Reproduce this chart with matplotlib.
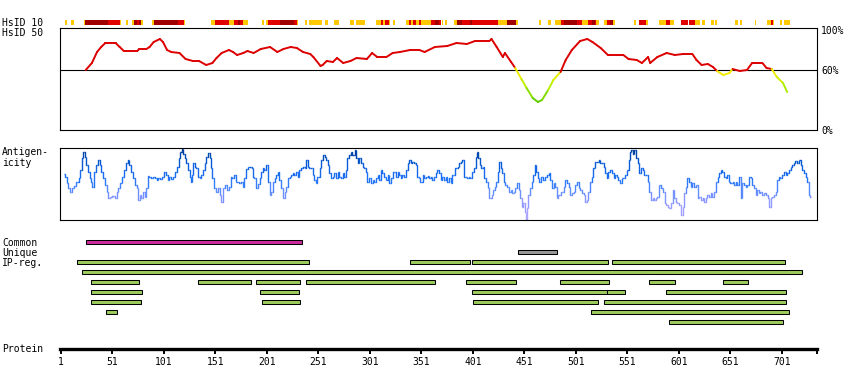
import numpy as np
import matplotlib
matplotlib.use('Agg')
import matplotlib.pyplot as plt
from matplotlib.collections import LineCollection
from matplotlib.colors import LinearSegmentedColormap

plt.rcParams['font.family'] = ['DejaVu Sans Mono']
plt.rcParams['font.size'] = 7

# ---------------- data ----------------
protein_ticks = [1, 51, 101, 151, 201, 251, 301, 351, 401, 451, 501, 551, 601, 651, 701]
protein_end = 735.0

# HsID 10 strip: start, end, level (1 = yellow, 2 = red, 3 = dark red)
hsid10_start = [5, 11, 23, 24, 47, 58, 64, 70, 72, 75, 77, 79, 89, 91, 115, 120, 147, 151, 164, 169, 173, 175, 178,
                196, 200, 202, 214, 227, 230, 238, 242, 257, 266, 282, 287, 307, 312, 314, 316, 319, 323, 336, 339,
                341, 343, 346, 349, 351, 354, 360, 364, 368, 371, 374, 383, 385, 390, 398, 400, 425, 434, 443, 465,
                474, 481, 486, 489, 502, 507, 513, 517, 519, 520, 528, 531, 534, 537, 557, 562, 569, 582, 588, 592,
                603, 611, 617, 623, 632, 636, 655, 660, 675, 686, 690, 692, 699, 703]
hsid10_end = [7, 14, 24, 47, 58, 59, 66, 72, 75, 77, 79, 81, 91, 115, 120, 121, 151, 164, 169, 173, 175, 178, 183,
              198, 202, 214, 227, 230, 231, 240, 254, 260, 271, 285, 296, 312, 314, 316, 319, 320, 325, 339, 341,
              343, 346, 349, 351, 354, 360, 364, 368, 370, 372, 376, 385, 390, 398, 400, 425, 434, 443, 445, 467,
              477, 486, 489, 502, 507, 513, 517, 519, 520, 523, 531, 534, 537, 539, 559, 569, 571, 588, 592, 596,
              610, 617, 621, 626, 635, 638, 658, 662, 676, 690, 692, 693, 701, 709]
hsid10_level = [1, 1, 1, 3, 2, 1, 1, 1, 3, 2, 3, 1, 1, 3, 2, 1, 1, 2, 1, 2, 3, 2, 1,
                1, 1, 2, 3, 2, 1, 1, 1, 1, 1, 1, 1, 1, 2, 1, 2, 1, 1, 1, 2,
                1, 2, 1, 2, 1, 1, 2, 3, 2, 1, 1, 1, 3, 2, 3, 2, 1, 3, 1, 1,
                1, 1, 2, 3, 2, 1, 2, 3, 2, 1, 1, 2, 3, 1, 1, 2, 1, 1, 2, 1,
                2, 2, 1, 1, 1, 1, 1, 1, 1, 1, 2, 1, 1, 1]

# HsID 50 identity curve (percent)
hsid50_pos = [25, 31, 36, 40, 44, 54, 58, 62, 75, 77, 84, 87, 91, 97, 100, 104, 108, 116, 122, 129,
              135, 142, 148, 152, 157, 164, 168, 172, 178, 182, 188, 195, 204, 211, 217, 224, 230, 236, 243, 246,
              253, 255, 259, 265, 269, 275, 282, 288, 298, 303, 308, 317, 323, 330, 340, 349, 354, 364, 376, 385,
              395, 403, 417, 419, 424, 430, 432, 438, 442, 448, 453, 459, 464, 468, 474, 479, 486, 491, 497, 505,
              512, 517, 525, 532, 547, 552, 560, 565, 571, 573, 580, 589, 597, 605, 614, 618, 623, 629, 634, 638,
              644, 650, 653, 660, 667, 672, 678, 682, 686, 691, 696, 702, 706]
hsid50_val = [60, 67, 78, 83, 87, 87, 83, 79, 79, 81, 81, 83, 88, 91, 88, 80, 78, 77, 71, 69,
              69, 65, 67, 72, 77, 80, 78, 75, 77, 79, 77, 81, 83, 78, 81, 83, 82, 78, 76, 73,
              64, 65, 69, 68, 72, 67, 69, 72, 71, 77, 73, 73, 77, 78, 80, 80, 78, 83, 84, 87,
              86, 89, 89, 91, 83, 73, 77, 68, 62, 51, 42, 32, 28, 30, 40, 50, 58, 70, 80, 89,
              91, 88, 82, 75, 75, 71, 70, 67, 73, 67, 73, 77, 75, 76, 76, 70, 65, 66, 63, 59,
              55, 57, 61, 59, 60, 67, 67, 67, 62, 61, 53, 47, 38]

# Antigenicity profile
antigen_pos = [4, 6, 7, 9, 11, 13, 15, 17, 19, 20, 22, 23, 25, 26, 28, 30, 31, 32, 34, 36, 38, 39, 41, 43, 45, 46,
               48, 49, 52, 54, 56, 57, 60, 61, 63, 65, 67, 68, 70, 72, 74, 75, 77, 78, 80, 82, 83, 85, 86, 87, 89,
               91, 93, 95, 96, 98, 100, 102, 104, 105, 107, 109, 111, 113, 115, 116, 117, 119, 120, 122, 123, 125,
               127, 128, 129, 130, 132, 133, 135, 136, 138, 140, 141, 143, 145, 146, 147, 149, 151, 152, 154, 156,
               157, 159, 161, 163, 165, 167, 168, 170, 171, 173, 175, 177, 178, 180, 182, 183,
               185, 187, 188, 189, 191, 193, 195, 196, 198, 199, 201, 203, 204, 206, 208, 209, 211, 212, 214, 216,
               217, 219, 220, 222, 224, 225, 227, 228, 230, 232, 233, 235, 237, 238, 240, 241, 243, 245, 246, 248,
               249, 251, 253, 254, 256, 258, 259, 261, 262, 264, 266, 267, 269, 270, 272, 274, 275, 277, 278, 280,
               282, 283, 285, 287, 288, 290, 291, 293, 295, 296, 298, 299, 301, 303, 304, 306, 308, 309, 311, 312,
               314, 316, 317, 319, 320, 322, 324, 325, 327, 329, 330, 332, 333, 335, 337, 338, 340, 341, 343, 345,
               346, 348, 349, 351, 353, 354, 356, 358, 359, 361, 362, 364, 366, 367,
               369, 370, 372, 374, 375, 377, 379, 380, 382, 383, 385, 387, 388, 390, 391, 393, 395, 396, 398, 399,
               401, 403, 404, 405, 407, 408, 410, 411, 413, 415, 416, 418, 420, 421, 423, 424, 426, 427, 429, 430,
               432, 433, 435, 437, 438, 440, 441, 443, 445, 446, 448, 449, 451, 452, 453, 454, 455, 457, 459, 460,
               462, 463, 465, 466, 468, 470, 472, 474, 475, 477, 479, 480, 482, 483, 485, 487, 488, 490, 491, 493,
               495, 496, 498, 500, 501, 503, 504, 506, 508, 509, 511, 512, 514, 516, 517, 519, 520, 522, 524, 525,
               527, 529, 530, 532, 533, 535, 537, 538, 540, 541, 543, 545, 546, 548, 550, 551, 553,
               554, 555, 557, 558, 560, 562, 563, 565, 567, 568, 570, 571, 573, 575, 576, 578, 579, 581, 582, 583,
               585, 586, 588, 589, 591, 592, 594, 596, 597, 599, 600, 602, 604, 605, 607, 608, 610, 612, 613, 615,
               617, 618, 620, 621, 623, 625, 626, 628, 629, 631, 633, 634, 636, 638, 639, 641, 642, 644, 646, 647,
               649, 650, 652, 654, 655, 657, 658, 660, 662, 663, 665, 667, 668, 670, 671, 673, 675, 676, 678, 679,
               681, 683, 684, 686, 688, 689, 691, 692, 694, 696, 697, 699, 700, 702, 704, 705, 707, 709, 710, 712,
               713, 715, 717, 718, 720, 721, 723, 725, 726, 728, 729]
antigen_val = [46, 43, 37, 32, 28, 32, 34, 38, 42, 50, 62, 68, 63, 55, 48, 42, 38, 33, 48, 55, 60, 55, 48, 42, 35, 28,
               22, 23, 24, 22, 28, 32, 37, 43, 50, 57, 60, 55, 48, 42, 35, 32, 20, 25, 22, 28, 23, 32, 44, 43, 42,
               43, 42, 40, 42, 41, 43, 48, 45, 40, 43, 41, 43, 48, 53, 62, 68, 71, 66, 62, 57, 50,
               43, 38, 45, 57, 53, 52, 43, 42, 45, 50, 57, 63, 67, 62, 52, 42, 32, 28, 32, 25,
               18, 32, 35, 30, 33, 43, 42, 45, 38, 38, 37, 38, 33, 42, 51, 53,
               53, 52, 43, 42, 32, 36, 42, 48, 52, 50, 55, 38, 25, 28, 38, 42, 45, 48, 40, 32,
               22, 28, 33, 42, 43, 45, 47, 45, 48, 43, 50, 52, 53, 52, 60, 53, 52, 52, 45, 40,
               37, 43, 52, 60, 65, 63, 60, 55, 47, 42, 43, 47, 42, 48, 43, 42, 47, 43, 50, 62,
               65, 68, 65, 70, 62, 57, 62, 57, 53, 52, 48, 38, 42, 37, 40, 38, 42, 45, 40, 50,
               47, 43, 40, 45, 37, 42, 48, 48, 43, 48, 45, 42, 45, 43, 50, 57, 60, 57, 58, 57,
               55, 43, 42, 38, 45, 42, 43, 44, 42, 43, 40, 43, 47, 50,
               47, 40, 43, 40, 43, 38, 42, 37, 45, 45, 52, 53, 57, 58, 60, 43, 43, 42, 43, 42,
               48, 52, 63, 68, 62, 55, 52, 53, 42, 38, 32, 22, 25, 30, 33, 38, 48, 58, 52, 47,
               38, 35, 33, 28, 30, 27, 28, 32, 37, 30, 22, 13, 17, 8, 0, 12, 25, 32, 38, 45,
               55, 48, 42, 38, 43, 40, 43, 45, 47, 40, 32, 37, 33, 22, 25, 28, 28, 33, 40, 37,
               33, 25, 27, 28, 35, 38, 32, 30, 27, 25, 18, 20, 28, 38, 43, 52, 58, 58, 60, 57,
               57, 53, 47, 42, 48, 50, 47, 42, 45, 43, 40, 37, 42, 42, 45, 50, 60,
               68, 70, 66, 70, 62, 57, 47, 52, 50, 45, 45, 38, 28, 20, 22, 20, 22, 23, 35, 35,
               32, 28, 17, 15, 13, 12, 17, 30, 22, 18, 17, 15, 5, 13, 27, 33, 42, 38, 33, 37,
               33, 35, 22, 23, 20, 22, 18, 22, 25, 23, 27, 23, 28, 38, 43, 47, 50, 48, 43, 42,
               45, 38, 37, 38, 35, 38, 35, 43, 22, 37, 35, 33, 35, 43, 42, 35, 32, 25, 30, 27,
               28, 25, 27, 25, 22, 13, 22, 23, 25, 28, 40, 43, 42, 45, 48, 45, 47, 50, 53, 55,
               57, 59, 57, 60, 55, 50, 47, 43, 38, 25, 23]

# Feature bars: row 0 = Common, 1 = Unique, 2.. = IP regions
feature_row = [0, 1, 2, 2, 2, 2, 3, 4, 4, 4, 4, 4, 4, 4, 4, 5, 5, 5, 5, 5, 6, 6, 6, 6, 7, 7, 8]
feature_start = [25, 445, 17, 340, 400, 536, 21, 30, 134, 190, 239, 394, 485, 572, 644,
                 30, 194, 400, 531, 588, 30, 196, 401, 528, 45, 516, 591]
feature_end = [235, 483, 242, 398, 532, 704, 720, 77, 185, 233, 364, 443, 533, 597, 668,
               80, 232, 531, 549, 705, 79, 233, 522, 705, 55, 708, 702]
feature_kind = ['common', 'unique'] + ['ip'] * 25

row_labels = ['Common', 'Unique', 'IP-reg.']

# ---------------- figure ----------------
W, H = 850, 390
fig = plt.figure(figsize=(W / 100, H / 100), dpi=100)
XLIM = (0.03, protein_end)


def add_ax(x0, y0, x1, y1):
    return fig.add_axes([x0 / W, 1 - y1 / H, (x1 - x0) / W, (y1 - y0) / H])


def fy(y):
    return 1 - y / H


# HsID 10 strip
ax_s = add_ax(60, 20, 817, 25)
lvl_col = {1: '#FFC800', 2: '#E00000', 3: '#A00000'}
ax_s.bar(x=hsid10_start, height=1, width=np.array(hsid10_end) - np.array(hsid10_start), bottom=0,
         align='edge', color=[lvl_col[l] for l in hsid10_level], linewidth=0)
ax_s.set_xlim(*XLIM)
ax_s.set_ylim(0, 1)
ax_s.axis('off')

# HsID 50 panel
ax_h = add_ax(60, 28, 817, 130)
ax_h.set_xlim(*XLIM)
ax_h.set_ylim(0, 102)
ax_h.axhline(60, color='black', lw=0.8)
hx = np.array(hsid50_pos, float)
hv = np.array(hsid50_val, float)
segs = [[(hx[i], hv[i]), (hx[i + 1], hv[i + 1])] for i in range(len(hx) - 1)]
green_cmap = LinearSegmentedColormap.from_list('g', [(0.0, '#5AC800'), (0.5, '#B4F000'), (1.0, '#FFEE00')])
cols = []
for i in range(len(hx) - 1):
    m = 0.5 * (hv[i] + hv[i + 1])
    if m >= 59.5:
        cols.append('#DD0000')
    else:
        cols.append(green_cmap(np.clip((m - 28) / 32, 0, 1)))
ax_h.add_collection(LineCollection(segs, colors=cols, linewidths=1.4, capstyle='round'))
ax_h.set_xticks([])
ax_h.yaxis.tick_right()
ax_h.set_yticks([0, 60, 100])
ax_h.set_yticklabels(['0%', '60%', '100%'])
ax_h.tick_params(axis='y', length=0, pad=3)
for sp in ax_h.spines.values():
    sp.set_linewidth(0.8)

# Antigenicity panel
ax_a = add_ax(60, 148, 817, 220)
ax_a.set_xlim(*XLIM)
ax_a.set_ylim(0, 72)
apos = np.array(antigen_pos, float)
av = np.array(antigen_val, float)
blue_cmap = LinearSegmentedColormap.from_list('b', [(0.0, '#B8AAFF'), (0.28, '#8C96FF'), (0.42, '#5A8CFF'),
                                                    (0.56, '#2274F8'), (0.7, '#1466E8'), (0.85, '#0052C4'),
                                                    (1.0, '#003A90')])
asegs = []
acols = []
for i in range(len(apos) - 1):
    xm = 0.5 * (apos[i] + apos[i + 1])
    asegs.append([(apos[i], av[i]), (xm, av[i]), (xm, av[i + 1]), (apos[i + 1], av[i + 1])])
    acols.append(blue_cmap(np.clip(0.5 * (av[i] + av[i + 1]) / 72, 0, 1)))
ax_a.add_collection(LineCollection(asegs, colors=acols, linewidths=1.0))
ax_a.set_xticks([])
ax_a.set_yticks([])
for sp in ax_a.spines.values():
    sp.set_linewidth(0.8)

# Features
ax_f = add_ax(60, 237, 817, 327)
ax_f.set_xlim(*XLIM)
ax_f.set_ylim(8.5, -0.5)
kind_col = {'common': '#CC2A9E', 'unique': '#999999', 'ip': '#9CCB5C'}
ax_f.barh(feature_row, np.array(feature_end) - np.array(feature_start), left=feature_start, height=0.42,
          color=[kind_col[k] for k in feature_kind], edgecolor='black', linewidth=0.75)
ax_f.axis('off')

# Protein axis
ax_p = add_ax(60, 340, 817, 349)
ax_p.set_xlim(*XLIM)
ax_p.set_ylim(0, 1)
for s in ['top', 'left', 'right']:
    ax_p.spines[s].set_visible(False)
ax_p.spines['bottom'].set_linewidth(2.4)
ax_p.set_yticks([])
ax_p.set_xticks(protein_ticks)
ax_p.set_xticklabels([str(t) for t in protein_ticks])
ax_p.set_xticks([protein_end], minor=True)
ax_p.tick_params(axis='x', which='both', length=3.5, width=1.4, pad=2, direction='out')
ax_p.patch.set_alpha(0)

# Left labels
fig.text(2 / W, fy(22.5), 'HsID 10', ha='left', va='center')
fig.text(2 / W, fy(33), 'HsID 50', ha='left', va='center')
fig.text(2 / W, fy(152.5), 'Antigen-', ha='left', va='center')
fig.text(2 / W, fy(163), 'icity', ha='left', va='center')
for i, lab in enumerate(row_labels):
    fig.text(2 / W, fy(242.5 + 10 * i), lab, ha='left', va='center')
fig.text(2 / W, fy(349), 'Protein', ha='left', va='center')

fig.savefig('out.png', dpi=100, facecolor='white')
